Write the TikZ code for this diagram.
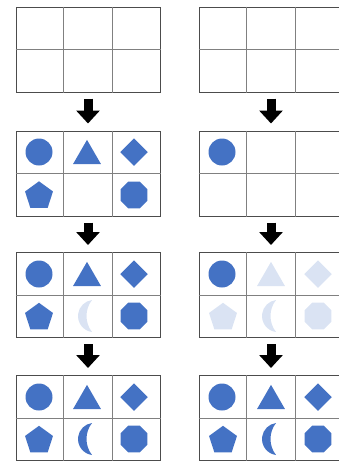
\documentclass[tikz,border=0pt]{standalone}
\usetikzlibrary{shapes.geometric,arrows.meta,calc}
\definecolor{shapeblue}{HTML}{4472C4}
\definecolor{fadeblue}{HTML}{DAE3F3}

\begin{document}
\begin{tikzpicture}[
		x=1pt, y=-1pt,
		gridbox/.style={draw=black!70, line width=1pt, minimum width=144pt, minimum height=85pt, inner sep=0pt},
		divider/.style={draw=black!50, line width=1pt},
		blockarrow/.style={line width=9pt, shorten <=6pt, shorten >=7pt, -{Triangle[length=13pt, width=23pt]}},
		piece/.style={inner sep=0pt, outer sep=0pt},
		dot/.style={piece, circle, minimum size=27pt},
		tri/.style={piece, regular polygon, regular polygon sides=3, minimum size=32.3pt},
		kite/.style={piece, regular polygon, regular polygon sides=4, regular polygon rotate=45, minimum size=27.5pt},
		penta/.style={piece, regular polygon, regular polygon sides=5, minimum size=29.4pt},
		octa/.style={piece, regular polygon, regular polygon sides=8, minimum size=29.2pt},
		full/.style={fill=shapeblue},
		faded/.style={fill=fadeblue},
		pics/moon/.style={code={\fill[#1] (7,16) arc[start angle=97.6, end angle=262.4, radius=16.14] arc[start angle=217.95, end angle=142.05, radius=26.02] -- cycle;}},
	]
	\useasboundingbox (0,0) rectangle (339,461);

	% grids
	\node[gridbox] (L1) at (88,49.5) {};
	\node[gridbox] (L2) at (88,173.5) {};
	\node[gridbox] (L3) at (88,295) {};
	\node[gridbox] (L4) at (88,418) {};
	\node[gridbox] (R1) at (271,49.5) {};
	\node[gridbox] (R2) at (271,173.5) {};
	\node[gridbox] (R3) at (271,295) {};
	\node[gridbox] (R4) at (271,418) {};

	\foreach \g in {L1,L2,L3,L4,R1,R2,R3,R4} {
		\draw[divider] ($(\g.north west)!1/3!(\g.north east)$) -- ($(\g.south west)!1/3!(\g.south east)$);
		\draw[divider] ($(\g.north west)!2/3!(\g.north east)$) -- ($(\g.south west)!2/3!(\g.south east)$);
		\draw[divider] (\g.west) -- (\g.east);
	}

	% arrows
	\draw[blockarrow] (L1) -- (L2);
	\draw[blockarrow] (L2) -- (L3);
	\draw[blockarrow] (L3) -- (L4);
	\draw[blockarrow] (R1) -- (R2);
	\draw[blockarrow] (R2) -- (R3);
	\draw[blockarrow] (R3) -- (R4);

	% left, step 2
	\node[dot, full] (L2a) at (39,152) {};
	\node[tri, full] (L2b) at (87,156) {};
	\node[kite, full] (L2c) at (134,152) {};
	\node[penta, full] (L2d) at (39,196) {};
	\node[octa, full] (L2f) at (134,195) {};

	% left, step 3
	\node[dot, full] (L3a) at (39,274) {};
	\node[tri, full] (L3b) at (87,278) {};
	\node[kite, full] (L3c) at (134,274) {};
	\node[penta, full] (L3d) at (39,317.5) {};
	\pic (L3e) at (85,316) {moon=fadeblue};
	\node[octa, full] (L3f) at (134,316) {};

	% left, step 4
	\node[dot, full] (L4a) at (39,397) {};
	\node[tri, full] (L4b) at (87,401) {};
	\node[kite, full] (L4c) at (134,397) {};
	\node[penta, full] (L4d) at (39,440.5) {};
	\pic (L4e) at (85,439) {moon=shapeblue};
	\node[octa, full] (L4f) at (134,439) {};

	% right, step 2
	\node[dot, full] (R2a) at (222,152) {};

	% right, step 3
	\node[dot, full] (R3a) at (222,274) {};
	\node[tri, faded] (R3b) at (271,278) {};
	\node[kite, faded] (R3c) at (318,274) {};
	\node[penta, faded] (R3d) at (223,317.5) {};
	\pic (R3e) at (269,316) {moon=fadeblue};
	\node[octa, faded] (R3f) at (318,316) {};

	% right, step 4
	\node[dot, full] (R4a) at (222,397) {};
	\node[tri, full] (R4b) at (271,401) {};
	\node[kite, full] (R4c) at (318,397) {};
	\node[penta, full] (R4d) at (223,440.5) {};
	\pic (R4e) at (269,439) {moon=shapeblue};
	\node[octa, full] (R4f) at (318,439) {};
\end{tikzpicture}
\end{document}
